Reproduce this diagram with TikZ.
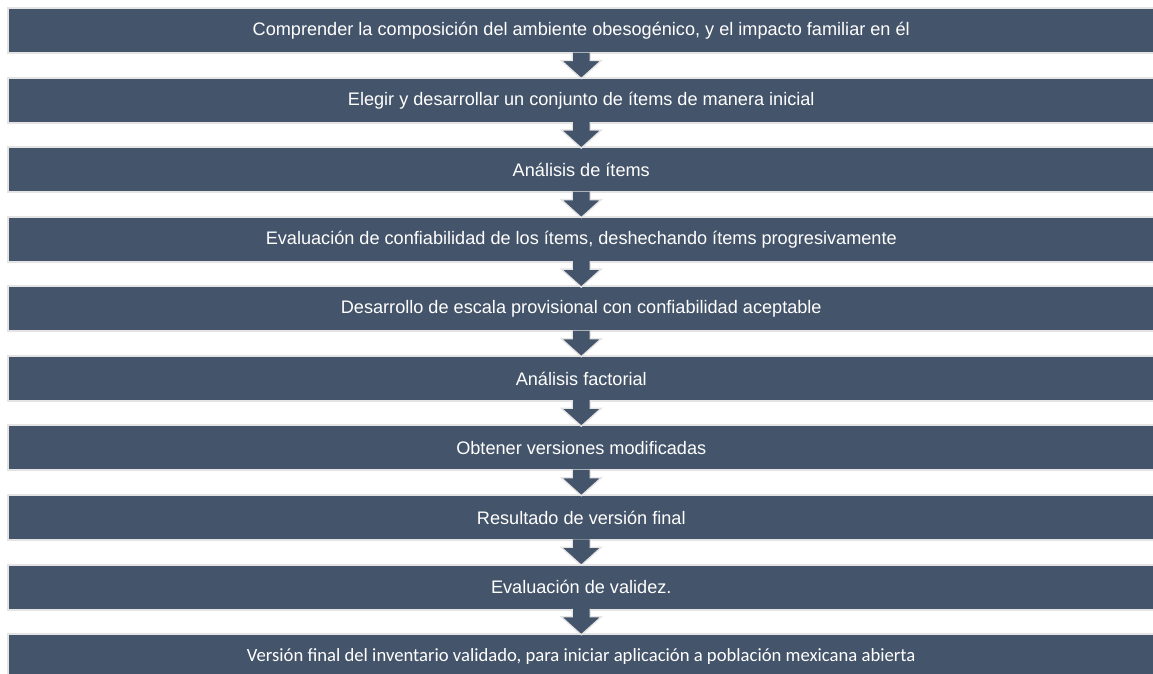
\documentclass[tikz,border=0pt]{standalone}
\usepackage{fontspec}
\setmainfont{Liberation Sans}
\newfontfamily\narrowfont{Carlito}
\usetikzlibrary{positioning,calc}

\definecolor{boxblue}{HTML}{44546A}
\definecolor{edgegray}{HTML}{E4E4E4}

\tikzset{
  stepbox/.style={rectangle, fill=boxblue, text=white,
    preaction={draw=edgegray, line width=3pt},
    minimum width=858pt, minimum height=32.25pt, inner sep=0pt,
    font=\fontsize{13.6pt}{15pt}\selectfont},
  flowarrow/.style={fill=boxblue, draw=edgegray, line width=1pt, line join=miter}
}

\begin{document}
\begin{tikzpicture}[node distance=19.5pt]
	\useasboundingbox (0,0) rectangle (864.75pt,-505.5pt);
	\node[stepbox, anchor=north west] (s1) at (6.75pt,-6.75pt) {Comprender la composición del ambiente obesogénico, y el impacto familiar en él};
	\node[stepbox, below=of s1] (s2) {Elegir y desarrollar un conjunto de ítems de manera inicial};
	\node[stepbox, below=of s2] (s3) {Análisis de ítems};
	\node[stepbox, below=of s3] (s4) {Evaluación de confiabilidad de los ítems, deshechando ítems progresivamente};
	\node[stepbox, below=of s4] (s5) {Desarrollo de escala provisional con confiabilidad aceptable};
	\node[stepbox, below=of s5] (s6) {Análisis factorial};
	\node[stepbox, below=of s6] (s7) {Obtener versiones modificadas};
	\node[stepbox, below=of s7] (s8) {Resultado de versión final};
	\node[stepbox, below=of s8] (s9) {Evaluación de validez.};
	\node[stepbox, below=of s9, font=\narrowfont\fontsize{14pt}{16pt}\selectfont] (s10) {Versión final del inventario validado, para iniciar aplicación a población mexicana abierta};

	% block arrows between the steps
	\foreach \a/\b in {s1/s2,s2/s3,s3/s4,s4/s5,s5/s6,s6/s7,s7/s8,s8/s9,s9/s10}
		\draw[flowarrow] ($(\a.south)+(-6.75pt,0)$) -- ($(\b.north)+(-6.75pt,13.5pt)$)
			-- ($(\b.north)+(-15pt,13.5pt)$) -- (\b.north) -- ($(\b.north)+(15pt,13.5pt)$)
			-- ($(\b.north)+(6.75pt,13.5pt)$) -- ($(\a.south)+(6.75pt,0)$);
\end{tikzpicture}
\end{document}
